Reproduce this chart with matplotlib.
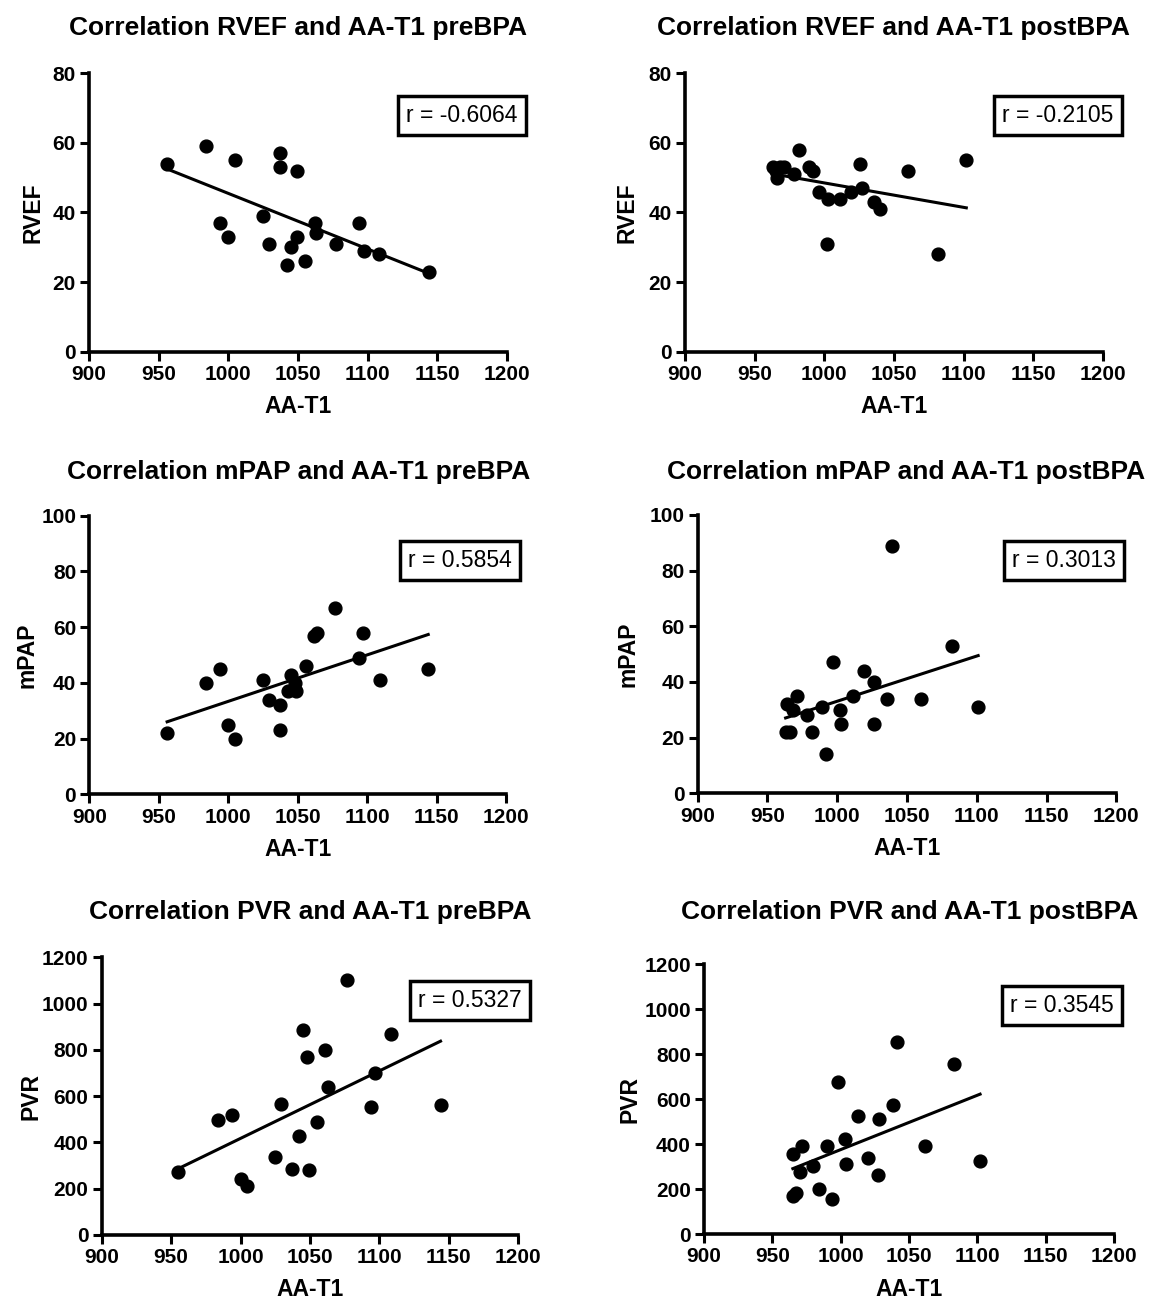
import numpy as np
from matplotlib import pyplot as plt

plt.rcParams['font.family'] = ['Liberation Sans', 'DejaVu Sans']

# AA-T1 values and the matching parameter
rvef_pre_x = [956, 984, 1005, 1037, 1037, 1049, 1025, 994, 1000, 1029, 1045, 1049, 1042, 1055, 1062, 1063, 1077, 1094, 1097, 1108, 1144]
rvef_pre_y = [54, 59, 55, 57, 53, 52, 39, 37, 33, 31, 30, 33, 25, 26, 37, 34, 31, 37, 29, 28, 23]

rvef_post_x = [963, 965, 966, 968, 971, 978, 982, 989, 992, 996, 1003, 1011, 1002, 1019, 1026, 1027, 1036, 1040, 1060, 1082, 1102]
rvef_post_y = [53, 52, 50, 53, 53, 51, 58, 53, 52, 46, 44, 44, 31, 46, 54, 47, 43, 41, 52, 28, 55]

mpap_pre_x = [956, 984, 994, 1000, 1005, 1025, 1029, 1037, 1037, 1043, 1045, 1048, 1049, 1056, 1062, 1064, 1077, 1094, 1097, 1109, 1144]
mpap_pre_y = [22, 40, 45, 25, 20, 41, 34, 32, 23, 37, 43, 40, 37, 46, 57, 58, 67, 49, 58, 41, 45]

mpap_post_x = [963, 964, 966, 968, 971, 978, 982, 989, 992, 997, 1002, 1003, 1011, 1019, 1026, 1026, 1036, 1039, 1060, 1082, 1101]
mpap_post_y = [22, 32, 22, 30, 35, 28, 22, 31, 14, 47, 30, 25, 35, 44, 40, 25, 34, 89, 34, 53, 31]

pvr_pre_x = [955, 984, 994, 1000, 1005, 1025, 1029, 1037, 1042, 1045, 1048, 1049, 1055, 1061, 1063, 1077, 1094, 1097, 1108, 1144]
pvr_pre_y = [274, 497, 519, 241, 213, 339, 565, 285, 429, 886, 768, 281, 487, 800, 641, 1102, 552, 702, 867, 562]

pvr_post_x = [1041, 1083, 998, 1038, 1013, 1028, 1003, 972, 990, 1062, 965, 1020, 1004, 980, 970, 1102, 1027, 984, 967, 965, 994]
pvr_post_y = [856, 758, 678, 575, 527, 511, 425, 393, 393, 393, 356, 338, 313, 304, 279, 327, 264, 201, 182, 172, 156]

titles = ['Correlation RVEF and AA-T1 preBPA', 'Correlation RVEF and AA-T1 postBPA',
          'Correlation mPAP and AA-T1 preBPA', 'Correlation mPAP and AA-T1 postBPA',
          'Correlation PVR and AA-T1 preBPA', 'Correlation PVR and AA-T1 postBPA']
ylabels = ['RVEF', 'RVEF', 'mPAP', 'mPAP', 'PVR', 'PVR']
r_labels = ['r = -0.6064', 'r = -0.2105', 'r = 0.5854', 'r = 0.3013', 'r = 0.5327', 'r = 0.3545']
ymax = [80, 80, 100, 100, 1200, 1200]
ystep = [20, 20, 20, 20, 200, 200]
xticks = [900, 950, 1000, 1050, 1100, 1150, 1200]

data = [(rvef_pre_x, rvef_pre_y), (rvef_post_x, rvef_post_y),
        (mpap_pre_x, mpap_pre_y), (mpap_post_x, mpap_post_y),
        (pvr_pre_x, pvr_pre_y), (pvr_post_x, pvr_post_y)]

# [left, bottom, width, height] in figure fraction
rects = [[0.0774, 0.7299, 0.3635, 0.2138], [0.5957, 0.7299, 0.3632, 0.2138],
         [0.0777, 0.3899, 0.3623, 0.2140], [0.6067, 0.3907, 0.3640, 0.2138],
         [0.0884, 0.0515, 0.3623, 0.2132], [0.6122, 0.0520, 0.3565, 0.2074]]
box_pos = [(0.892, 0.847), (0.893, 0.847), (0.889, 0.841), (0.875, 0.838), (0.884, 0.846), (0.873, 0.846)]
# title centres in pixels (x, y from top)
title_pos = [(298, 28), (893, 28), (299, 472), (906, 472), (310, 912), (910, 912)]
# distance of the y label centre from the y axis, pixels
ylab_dist = [56, 58, 62, 70, 71, 74]

W, H = 1150, 1302
fig = plt.figure(figsize=(W / 100, H / 100), dpi=100)

for i in range(6):
    ax = fig.add_axes(rects[i])
    x = np.array(data[i][0], dtype=float)
    y = np.array(data[i][1], dtype=float)
    ax.scatter(x, y, s=85, color='black', zorder=3, clip_on=False)
    m, b = np.polyfit(x, y, 1)
    xl = np.array([x.min(), x.max()])
    ax.plot(xl, m * xl + b, color='black', lw=2.2, zorder=2)

    ax.set_xlim(900, 1200)
    ax.set_ylim(0, ymax[i])
    ax.set_xticks(xticks)
    ax.set_yticks(np.arange(0, ymax[i] + 1, ystep[i]))
    for s in ['top', 'right']:
        ax.spines[s].set_visible(False)
    for s in ['left', 'bottom']:
        ax.spines[s].set_linewidth(2.6)
    ax.tick_params(direction='out', length=6.5, width=2.2, labelsize=15, pad=3)
    for lab in ax.get_xticklabels() + ax.get_yticklabels():
        lab.set_fontweight('bold')

    ax.set_xlabel('AA-T1', fontsize=16.5, fontweight='bold', labelpad=8)
    ax.set_ylabel(ylabels[i], fontsize=16.5, fontweight='bold', va='center')
    ax.yaxis.set_label_coords(-ylab_dist[i] / (rects[i][2] * W), 0.5)

    ax.text(box_pos[i][0], box_pos[i][1], r_labels[i], transform=ax.transAxes,
            ha='center', va='center', fontsize=16.5,
            bbox=dict(boxstyle='square,pad=0.35', facecolor='white', edgecolor='black', linewidth=2.5))

    fig.text(title_pos[i][0] / W, 1 - title_pos[i][1] / H, titles[i], ha='center', va='center',
             fontsize=19, fontweight='bold')

plt.savefig('out.png', dpi=100)
